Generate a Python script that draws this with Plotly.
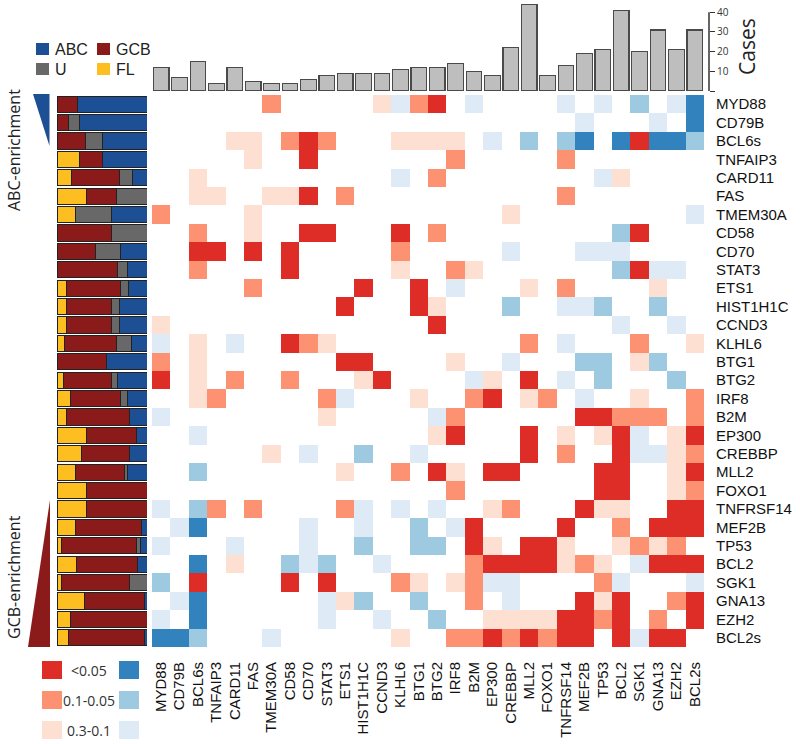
import plotly.graph_objects as go

# ---------------- data ----------------
genes = ["MYD88", "CD79B", "BCL6s", "TNFAIP3", "CARD11", "FAS", "TMEM30A", "CD58",
         "CD70", "STAT3", "ETS1", "HIST1H1C", "CCND3", "KLHL6", "BTG1", "BTG2",
         "IRF8", "B2M", "EP300", "CREBBP", "MLL2", "FOXO1", "TNFRSF14", "MEF2B",
         "TP53", "BCL2", "SGK1", "GNA13", "EZH2", "BCL2s"]

cases = [12, 7, 15, 4, 12, 5, 4, 4, 6, 8, 9, 9, 9, 11, 12, 12, 14, 10, 8, 22,
         44, 8, 13, 19, 21, 41, 20, 31, 21, 31]

# subtype composition per gene (%)
fl_pct  = [0, 0, 0, 25, 16, 33, 20, 0, 0, 0, 10, 10, 10, 8, 0, 7, 15, 10, 33, 27,
           21, 33, 33, 21, 5, 22, 5, 30, 15, 13]
gcb_pct = [23, 13, 32, 25, 53, 33, 0, 60, 43, 67, 60, 50, 50, 58, 55, 53, 56, 70, 55, 54,
           54, 67, 67, 73, 83, 67, 75, 67, 85, 84]
u_pct   = [0, 12, 18, 0, 15, 34, 40, 40, 28, 11, 9, 9, 9, 17, 0, 7, 7, 0, 0, 0,
           3, 0, 0, 0, 5, 0, 20, 0, 0, 0]
abc_pct = [77, 75, 50, 50, 16, 0, 40, 0, 29, 22, 21, 31, 31, 17, 45, 33, 22, 20, 12, 19,
           22, 0, 0, 6, 7, 11, 0, 3, 0, 3]

# pairwise association class: +3 <0.05, +2 0.1-0.05, +1 0.3-0.1 (co-occurrence, red)
# negative = mutual exclusivity (blue)
pclass = [
    [0, 0, 0, 0, 0, 0, 2, 0, 0, 0, 0, 0, 1, -1, 2, 3, 0, -1, 0, 0, 0, 0, -1, 0, -1, 0, -2, 0, -1, -3],
    [0, 0, 0, 0, 0, 0, 0, 0, 0, 0, 0, 0, 0, 0, 0, 0, 0, 0, 0, 0, 0, 0, 0, -1, 0, 0, 0, -1, 0, -3],
    [0, 0, 0, 0, 1, 1, 0, 2, 3, 2, 0, 0, 0, 1, 1, 1, 1, 0, -1, 0, -2, 0, -2, -3, 0, -3, 3, -3, -3, -2],
    [0, 0, 0, 0, 0, 1, 0, 0, 3, 0, 0, 0, 0, 0, 0, 0, 2, 0, 0, 0, 0, 0, 2, 0, 0, 0, 0, 0, 0, 0],
    [0, 0, 1, 0, 0, 0, 0, 0, 0, 0, 0, 0, 0, -1, 0, 2, 0, 0, 0, 0, 0, 0, 0, 0, -1, 1, 0, 0, 0, 0],
    [0, 0, 1, 1, 0, 0, 1, 1, 3, 0, 2, 0, 0, 0, 0, 0, 0, 0, 0, 0, 0, 0, 2, 0, 0, 0, 0, 0, 0, 0],
    [2, 0, 0, 0, 0, 1, 0, 0, 0, 0, 0, 0, 0, 0, 0, 0, 0, 0, 0, 1, 0, 0, 0, 0, 0, 0, 0, 0, 0, -1],
    [0, 0, 2, 0, 0, 1, 0, 0, 3, 3, 0, 0, 0, 3, 0, 2, 0, 0, 0, 0, 0, 0, 0, 0, 0, -2, 3, 0, 0, 0],
    [0, 0, 3, 3, 0, 3, 0, 3, 0, 0, 0, 0, 0, 2, 0, 0, 0, 0, 0, -1, 0, 0, 0, -1, -1, -1, 0, 0, 0, 0],
    [0, 0, 2, 0, 0, 0, 0, 3, 0, 0, 0, 0, 0, 1, 0, 0, 2, 1, 0, 0, 0, 0, 0, 0, 0, -2, 3, -1, -1, 0],
    [0, 0, 0, 0, 0, 2, 0, 0, 0, 0, 0, 3, 0, 0, 3, 0, -1, 0, 0, 0, 1, 0, 2, 0, 0, 0, 0, 1, 0, 0],
    [0, 0, 0, 0, 0, 0, 0, 0, 0, 0, 3, 0, 0, 0, 3, 1, 0, 0, 0, -2, 0, 0, -1, -1, -2, 0, 0, -2, 0, 0],
    [1, 0, 0, 0, 0, 0, 0, 0, 0, 0, 0, 0, 0, 0, 0, 3, 0, 0, 0, 0, 0, 0, 0, 0, 0, -1, 0, 0, -1, 0],
    [-1, 0, 1, 0, -1, 0, 0, 3, 2, 1, 0, 0, 0, 0, 0, 0, 0, 0, 0, 0, 2, 0, -1, 0, 0, 0, 2, 0, 0, 1],
    [2, 0, 1, 0, 0, 0, 0, 0, 0, 0, 3, 3, 0, 0, 0, 0, 1, 0, 0, -1, 0, 0, 0, -2, -2, 0, 1, -2, 0, 0],
    [3, 0, 1, 0, 2, 0, 0, 2, 0, 0, 0, 1, 3, 0, 0, 0, 0, -1, 1, 0, 3, 0, -1, 0, -2, 0, 0, 0, -2, 0],
    [0, 0, 1, 2, 0, 0, 0, 0, 0, 2, -1, 0, 0, 0, 1, 0, 0, 2, 3, 0, 1, 2, 0, -1, 0, 0, 1, 0, 0, 2],
    [-1, 0, 0, 0, 0, 0, 0, 0, 0, 1, 0, 0, 0, 0, 0, -1, 2, 0, 0, 0, 0, 0, 0, 3, 3, 2, 2, 2, 0, 2],
    [0, 0, -1, 0, 0, 0, 0, 0, 0, 0, 0, 0, 0, 0, 0, 1, 3, 0, 0, 0, 3, 0, 1, 0, 1, 3, -1, 0, 1, 3],
    [0, 0, 0, 0, 0, 0, 1, 0, -1, 0, 0, -2, 0, 0, -1, 0, 0, 0, 0, 0, 3, 0, 2, 0, 0, 3, -1, -1, 1, 2],
    [0, 0, -2, 0, 0, 0, 0, 0, 0, 0, 1, 0, 0, 2, 0, 3, 1, 0, 3, 3, 0, 0, 0, 0, 3, 3, 0, 0, 1, 3],
    [0, 0, 0, 0, 0, 0, 0, 0, 0, 0, 0, 0, 0, 0, 0, 0, 2, 0, 0, 0, 0, 0, 0, 0, 3, 3, 0, 0, 1, 2],
    [-1, 0, -2, 2, 0, 2, 0, 0, 0, 0, 2, -1, 0, -1, 0, -1, 0, 0, 1, 2, 0, 0, 0, 3, 1, 1, 0, 0, 3, 3],
    [0, -1, -3, 0, 0, 0, 0, 0, -1, 0, 0, -1, 0, 0, -2, 0, -1, 3, 0, 0, 0, 0, 3, 0, 0, 2, 0, 3, 3, 3],
    [-1, 0, 0, 0, -1, 0, 0, 0, -1, 0, 0, -2, 0, 0, -2, -2, 0, 3, 1, 0, 3, 3, 1, 0, 0, 1, 2, 1, 2, 0],
    [0, 0, -3, 0, 1, 0, 0, -2, -1, -2, 0, 0, -1, 0, 0, 0, 0, 2, 3, 3, 3, 3, 1, 2, 1, 0, -1, 3, 3, 3],
    [-2, 0, 3, 0, 0, 0, 0, 3, 0, 3, 0, 0, 0, 2, 1, 0, 1, 2, -1, -1, 0, 0, 0, 0, 2, -1, 0, 0, 0, -1],
    [0, -1, -3, 0, 0, 0, 0, 0, 0, -1, 1, -2, 0, 0, -2, 0, 0, 2, 0, -1, 0, 0, 0, 3, 1, 3, 0, 0, 2, 3],
    [-1, 0, -3, 0, 0, 0, 0, 0, 0, -1, 0, 0, -1, 0, 0, -2, 0, 0, 1, 1, 1, 1, 3, 3, 2, 3, 0, 2, 0, 3],
    [-3, -3, -2, 0, 0, 0, -1, 0, 0, 0, 0, 0, 0, 1, 0, 0, 2, 2, 3, 2, 3, 2, 3, 3, 0, 3, -1, 3, 3, 0],
]

legend_labels = ["<0.05", "0.1-0.05", "0.3-0.1"]
subtypes = ["ABC", "GCB", "U", "FL"]

# ---------------- styling ----------------
W, H = 800, 744
def px(x): return x / W
def py(y): return 1 - y / H

RED3, RED2, RED1 = "#DE2D26", "#FC9272", "#FEE0D2"
BLU3, BLU2, BLU1 = "#3182BD", "#9ECAE1", "#DEEBF7"
C_ABC, C_GCB, C_U, C_FL = "#1C4F93", "#8B1A1A", "#686868", "#FDBE21"
SANS = "Liberation Sans, Arial, sans-serif"
MYR = "Open Sans, Lato, sans-serif"

HX0, HX1, HY0, HY1 = 152, 704, 95, 647
n = len(genes)
idx = list(range(n))

cs = [[0, BLU3], [1/7, BLU3], [1/7, BLU2], [2/7, BLU2], [2/7, BLU1], [3/7, BLU1],
      [3/7, "#FFFFFF"], [4/7, "#FFFFFF"], [4/7, RED1], [5/7, RED1], [5/7, RED2],
      [6/7, RED2], [6/7, RED3], [1, RED3]]

fig = go.Figure()

fig.add_trace(go.Heatmap(z=pclass, x=idx, y=idx, colorscale=cs, zmin=-3.5, zmax=3.5,
                         showscale=False, hoverinfo="skip", xaxis="x", yaxis="y"))

fig.add_trace(go.Bar(x=idx, y=cases, xaxis="x2", yaxis="y2", width=0.84,
                     marker=dict(color="#BEBEBE", line=dict(color="#4A4A4A", width=1.2)),
                     showlegend=False, hoverinfo="skip"))

for vals, col in [(fl_pct, C_FL), (gcb_pct, C_GCB), (u_pct, C_U), (abc_pct, C_ABC)]:
    fig.add_trace(go.Bar(x=vals, y=idx, orientation="h", xaxis="x3", yaxis="y3",
                         width=0.88, marker=dict(color=col, line=dict(color="#222222", width=1)),
                         showlegend=False, hoverinfo="skip"))

tickfont = dict(family=SANS, size=15, color="#111111")
fig.update_layout(
    width=W, height=H, margin=dict(l=0, r=0, t=0, b=0),
    paper_bgcolor="white", plot_bgcolor="white", barmode="stack", showlegend=False,
    xaxis=dict(domain=[px(HX0), px(HX1)], range=[-0.5, n - 0.5], tickvals=idx, ticktext=genes,
               tickangle=-90, showgrid=False, zeroline=False, showline=False, ticks="outside",
               ticklen=8, tickcolor="rgba(0,0,0,0)", tickfont=tickfont, anchor="y"),
    yaxis=dict(domain=[py(HY1), py(HY0)], range=[n - 0.5, -0.5], tickvals=idx, ticktext=genes,
               side="right", showgrid=False, zeroline=False, showline=False, ticks="outside",
               ticklen=8, tickcolor="rgba(0,0,0,0)", tickfont=tickfont, anchor="x"),
    xaxis2=dict(domain=[px(HX0), px(HX1)], range=[-0.5, n - 0.5], visible=False, anchor="y2"),
    yaxis2=dict(domain=[py(91), py(1)], range=[0, 45.7], anchor="free", position=px(709),
                side="right", showgrid=False, zeroline=False, showline=False,
                tickvals=[0, 10, 20, 30, 40], ticktext=["", "10", "20", "30", "40"],
                ticks="outside", ticklen=5, tickwidth=1.3, tickcolor="#333333",
                tickfont=dict(family=MYR, size=10, color="#333333")),
    xaxis3=dict(domain=[px(57), px(147)], range=[0, 100], visible=False, anchor="y3"),
    yaxis3=dict(domain=[py(HY1), py(HY0)], range=[n - 0.5, -0.5], visible=False, anchor="x3"),
)

shapes = []
# cases axis line (0..40)
shapes.append(dict(type="line", xref="paper", yref="y2", x0=px(709), x1=px(709), y0=0, y1=40,
                   line=dict(color="#333333", width=1.5)))
# enrichment triangles
def path(pts):
    s = "M " + " L ".join(f"{px(a):.5f},{py(b):.5f}" for a, b in pts) + " Z"
    return s
shapes.append(dict(type="path", xref="paper", yref="paper",
                   path=path([(33, 94), (49.5, 94), (49.5, 146)]),
                   fillcolor=C_ABC, line=dict(width=0)))
shapes.append(dict(type="path", xref="paper", yref="paper",
                   path=path([(50, 500), (50, 647), (28, 647)]),
                   fillcolor=C_GCB, line=dict(width=0)))

annotations = []
# subtype legend
leg = [("ABC", C_ABC, 36, 43), ("GCB", C_GCB, 97, 43), ("U", C_U, 36, 63), ("FL", C_FL, 97, 63)]
for lab, col, x0, y0 in leg:
    shapes.append(dict(type="rect", xref="paper", yref="paper", x0=px(x0), x1=px(x0 + 13),
                       y0=py(y0 + 12), y1=py(y0), fillcolor=col, line=dict(width=0)))
    annotations.append(dict(x=px(x0 + 17), y=py(y0 + 6), xref="paper", yref="paper", text=lab,
                            showarrow=False, xanchor="left", yanchor="middle",
                            font=dict(family=SANS, size=16, color="#222222")))

# p-value legend
reds = [RED3, RED2, RED1]
blues = [BLU3, BLU2, BLU1]
for i, lab in enumerate(legend_labels):
    y0 = 661 + 30 * i
    shapes.append(dict(type="rect", xref="paper", yref="paper", x0=px(42), x1=px(62),
                       y0=py(y0 + 18), y1=py(y0), fillcolor=reds[i], line=dict(width=0)))
    shapes.append(dict(type="rect", xref="paper", yref="paper", x0=px(119), x1=px(139),
                       y0=py(y0 + 18), y1=py(y0), fillcolor=blues[i], line=dict(width=0)))
    annotations.append(dict(x=px(89), y=py(y0 + 9), xref="paper", yref="paper", text=lab,
                            showarrow=False, xanchor="center", yanchor="middle",
                            font=dict(family=MYR, size=14, color="#333333")))

annotations.append(dict(x=px(747), y=py(47), xref="paper", yref="paper", text="Cases",
                        showarrow=False, textangle=-90, xanchor="center", yanchor="middle",
                        font=dict(family=MYR, size=21, color="#222222")))
annotations.append(dict(x=px(14), y=py(150), xref="paper", yref="paper", text="ABC-enrichment",
                        showarrow=False, textangle=-90, xanchor="center", yanchor="middle",
                        font=dict(family=MYR, size=16, color="#222222")))
annotations.append(dict(x=px(14), y=py(577), xref="paper", yref="paper", text="GCB-enrichment",
                        showarrow=False, textangle=-90, xanchor="center", yanchor="middle",
                        font=dict(family=MYR, size=16, color="#222222")))

fig.update_layout(shapes=shapes, annotations=annotations)
fig.write_html("out.html", config={"displayModeBar": False},
               post_script="document.body.style.margin='0px';document.body.style.overflow='hidden';")
